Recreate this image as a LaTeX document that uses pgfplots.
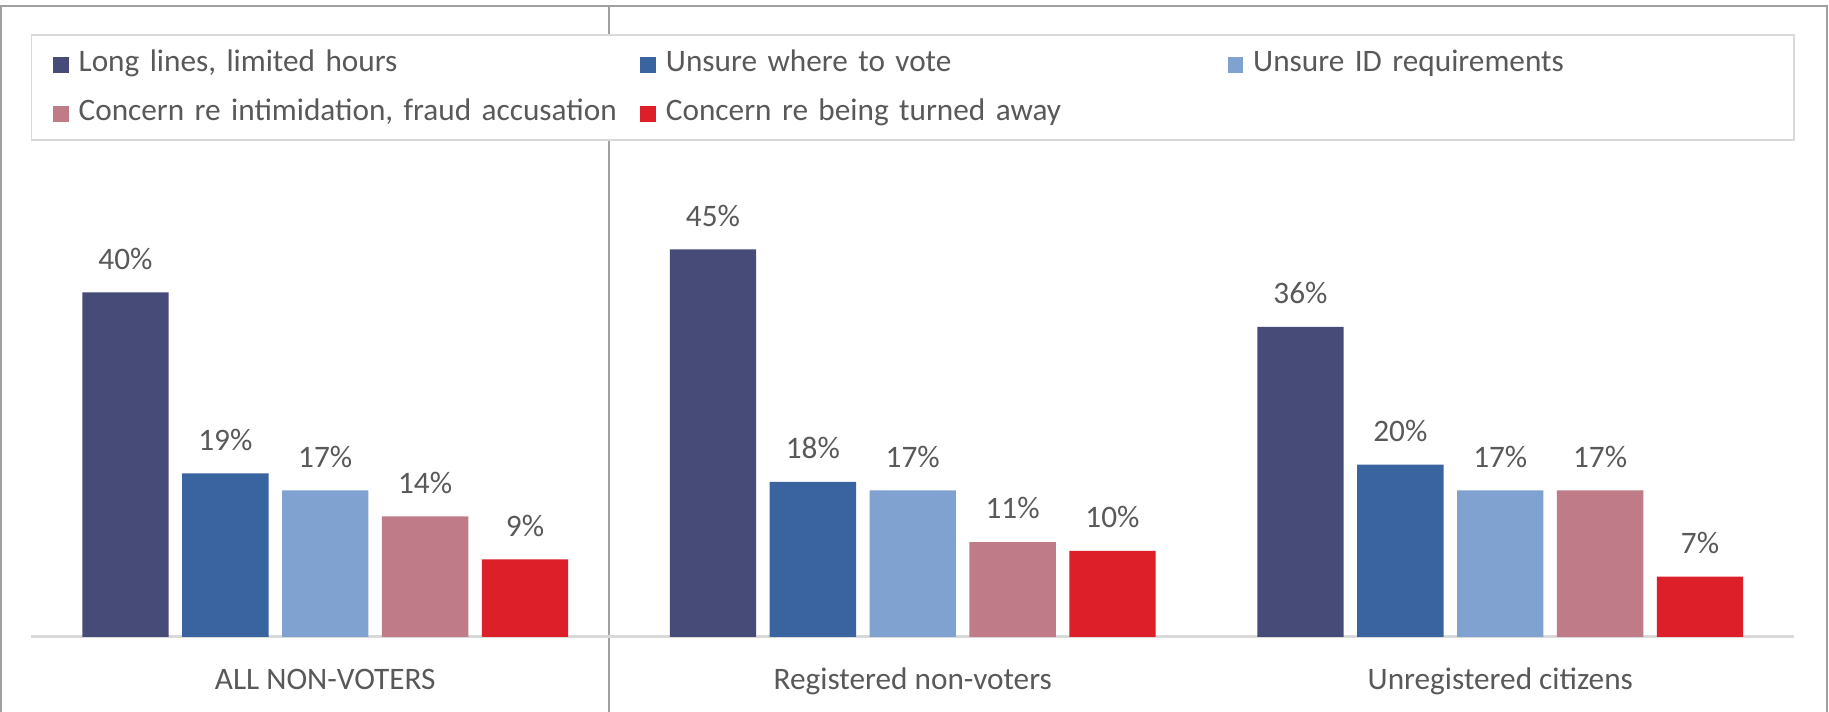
\documentclass[border=0pt]{standalone}
\usepackage{pgfplots}
\pgfplotsset{compat=1.18}
\usepackage{fontspec}
\setmainfont{Carlito}
\definecolor{cNavy}{HTML}{474B78}
\definecolor{cBlue}{HTML}{3A64A0}
\definecolor{cLight}{HTML}{7FA2D1}
\definecolor{cMauve}{HTML}{C07B88}
\definecolor{cRed}{HTML}{DC1F29}
\definecolor{textGray}{HTML}{595959}
\definecolor{frameGray}{HTML}{A0A0A0}
\definecolor{legGray}{HTML}{D9D9D9}
\begin{document}
\begin{tikzpicture}[font=\fontsize{13.4pt}{16pt}\selectfont]
\useasboundingbox (0,0) rectangle (784pt,305pt);
\fill[white] (0,0) rectangle (784pt,305pt);
\draw[frameGray, line width=0.9pt] (0.5pt,-2pt) -- (0.5pt,302.5pt) -- (783pt,302.5pt) -- (783pt,-2pt);
\draw[frameGray, line width=0.9pt] (261pt,-2pt) -- (261pt,302.5pt);
\draw[legGray, fill=white, line width=0.8pt] (13.5pt,245pt) rectangle (769pt,290pt);
\begin{axis}[
  at={(13.5pt,32pt)}, anchor=south west,
  scale only axis, width=755.5pt, height=213pt,
  xmin=-0.5, xmax=2.5, ymin=0, ymax=57.7,
  clip=false,
  ybar, bar width=0.147, bar shift=0pt,
  axis x line*=bottom, axis y line=none,
  x axis line style={draw=legGray, line width=1.2pt, -},
  major tick length=0pt,
  xtick={0,1,2},
  xticklabels={ALL NON-VOTERS, Registered non-voters, Unregistered citizens},
  ytick=\empty,
  xticklabel shift=10.2pt,
  xticklabel style={text=textGray, text height=9pt, text depth=2.5pt},
  nodes near coords={\pgfmathprintnumber[assume math mode=true]{\pgfplotspointmeta}\%},
  every node near coord/.append style={text=textGray, yshift=6.3pt},
  every axis plot post/.append style={legend image code/.code={\fill[##1] (0pt,-3.4pt) rectangle (6.8pt,3.4pt);}},
  legend columns=3,
  legend cell align=left,
  legend style={draw=none, fill=none, inner sep=0pt,
    at={(0.01191,1.1796)}, anchor=north west,
    nodes={text width=234pt, align=left, inner xsep=2pt, inner ysep=0pt, text height=8.5pt, text depth=3pt, text=textGray},
    /tikz/row sep=9.5pt,
    /tikz/every odd column/.append style={column sep=2.2pt},
    /tikz/every even column/.append style={column sep=4.75pt}},
]
\addplot[draw=none, fill=cNavy] coordinates {(-0.34,40) (0.66,45) (1.66,36)};
\addplot[draw=none, fill=cBlue] coordinates {(-0.17,19) (0.83,18) (1.83,20)};
\addplot[draw=none, fill=cLight] coordinates {(0,17) (1,17) (2,17)};
\addplot[draw=none, fill=cMauve] coordinates {(0.17,14) (1.17,11) (2.17,17)};
\addplot[draw=none, fill=cRed] coordinates {(0.34,9) (1.34,10) (2.34,7)};
\legend{{Long lines, limited hours}, Unsure where to vote, Unsure ID requirements, {Concern re intimidation, fraud accusation}, Concern re being turned away}
\end{axis}
\end{tikzpicture}
\end{document}
